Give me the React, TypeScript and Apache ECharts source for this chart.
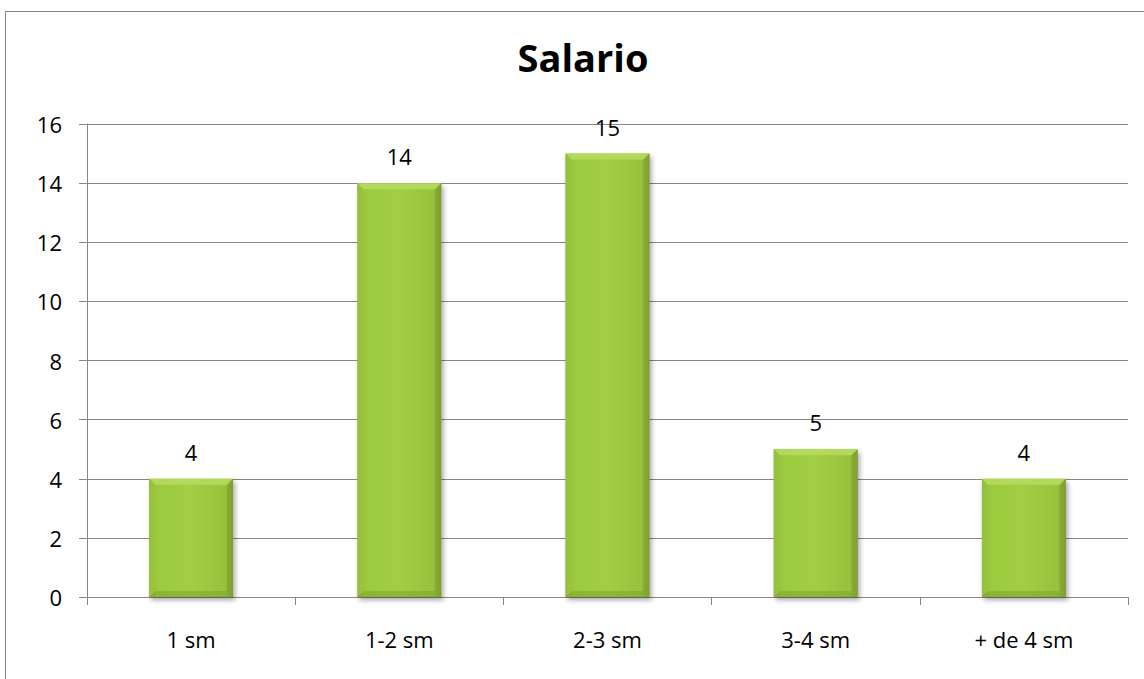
import React, { useEffect, useRef } from "react";
import * as echarts from "echarts";

const categories = ["1 sm", "1-2 sm", "2-3 sm", "3-4 sm", "+ de 4 sm"];
const values = [4, 14, 15, 5, 4];
const titleText = "Salario";

const BAR_W = 84;
const BEV = 6;

export default function App() {
  const ref = useRef<HTMLDivElement>(null);
  useEffect(() => {
    document.body.style.margin = "0";
    const chart = echarts.init(ref.current!, null, { renderer: "svg" });
    const font = "Open Sans, Noto Sans, sans-serif";
    chart.setOption({
      animation: false,
      backgroundColor: "#ffffff",
      title: {
        text: titleText,
        left: 578,
        top: 33,
        textAlign: "center",
        textStyle: { fontFamily: font, fontWeight: "bold", fontSize: 38, color: "#000000" },
      },
      graphic: [
        {
          type: "rect",
          shape: { x: 5.5, y: 11.5, width: 1300, height: 800 },
          style: { fill: "none", stroke: "#868686", lineWidth: 1 },
          silent: true,
          z: 100,
        },
      ],
      grid: { left: 87, right: 16, top: 124, bottom: 82 },
      xAxis: {
        type: "category",
        data: categories,
        axisLine: { show: true, lineStyle: { color: "#868686", width: 1 } },
        axisTick: { show: true, alignWithLabel: false, length: 8, lineStyle: { color: "#868686" } },
        axisLabel: { color: "#000000", fontFamily: font, fontSize: 22, margin: 31 },
        splitLine: { show: false },
      },
      yAxis: {
        type: "value",
        min: 0,
        max: 16,
        interval: 2,
        axisLine: { show: true, lineStyle: { color: "#868686", width: 1 } },
        axisTick: { show: true, length: 8, lineStyle: { color: "#868686" } },
        axisLabel: { color: "#000000", fontFamily: font, fontSize: 22, margin: 25 },
        splitLine: { show: true, lineStyle: { color: "#868686", width: 1 } },
      },
      series: [
        {
          type: "bar",
          data: values,
          barWidth: BAR_W,
          z: 2,
          label: {
            show: true,
            position: "top",
            distance: 16,
            color: "#000000",
            fontFamily: font,
            fontSize: 22,
          },
          itemStyle: {
            color: new echarts.graphic.LinearGradient(0, 0, 1, 0, [
              { offset: 0, color: "#8db437" },
              { offset: 0.1, color: "#9cca3e" },
              { offset: 0.5, color: "#a1ce44" },
              { offset: 0.9, color: "#97c33c" },
              { offset: 1, color: "#809f32" },
            ]),
            shadowColor: "rgba(0,0,0,0.35)",
            shadowBlur: 5,
            shadowOffsetX: 2,
            shadowOffsetY: 3,
          },
        },
        {
          type: "custom",
          z: 3,
          silent: true,
          data: values.map((v, i) => [i, v]),
          renderItem: (params: any, api: any) => {
            const top = api.coord([api.value(0), api.value(1)]);
            const bot = api.coord([api.value(0), 0]);
            const x0 = top[0] - BAR_W / 2;
            const x1 = top[0] + BAR_W / 2;
            const y0 = top[1];
            const y1 = bot[1];
            return {
              type: "group",
              children: [
                {
                  type: "polygon",
                  shape: { points: [[x0, y0], [x1, y0], [x1 - BEV, y0 + BEV], [x0 + BEV, y0 + BEV]] },
                  style: { fill: "#b6dc62", opacity: 0.85 },
                },
                {
                  type: "polygon",
                  shape: { points: [[x0, y0], [x0 + BEV, y0 + BEV], [x0 + BEV, y1 - BEV], [x0, y1]] },
                  style: { fill: "#9ac642", opacity: 0.6 },
                },
                {
                  type: "polygon",
                  shape: { points: [[x1, y0], [x1 - BEV, y0 + BEV], [x1 - BEV, y1 - BEV], [x1, y1]] },
                  style: { fill: "#7e9e31", opacity: 0.55 },
                },
                {
                  type: "polygon",
                  shape: { points: [[x0, y1], [x0 + BEV, y1 - BEV], [x1 - BEV, y1 - BEV], [x1, y1]] },
                  style: { fill: "#7e9e31", opacity: 0.5 },
                },
              ],
            };
          },
        },
      ],
    });
    return () => chart.dispose();
  }, []);
  return <div ref={ref} style={{ width: 1144, height: 679 }} />;
}
